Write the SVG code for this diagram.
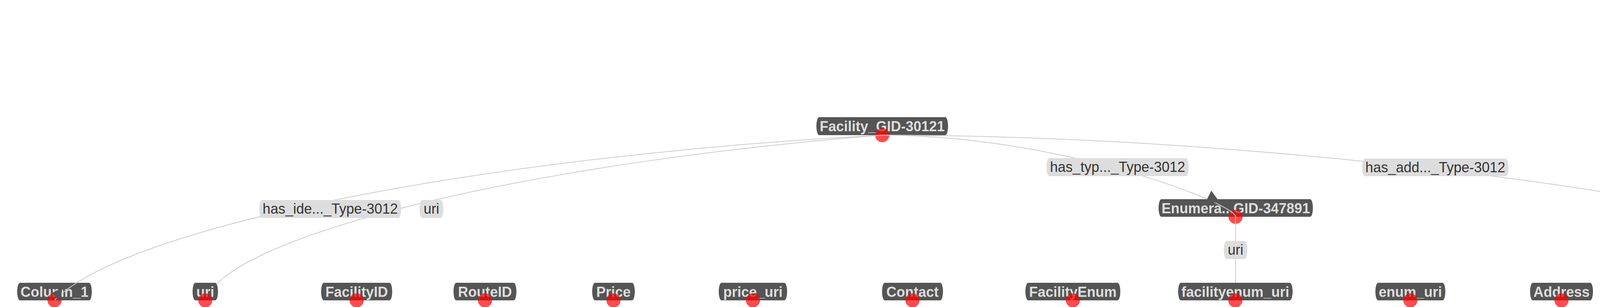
<svg xmlns="http://www.w3.org/2000/svg" width="5496" height="786" viewBox="0 0 5496 786">
<style>
.nbox{fill:#555555}
.ntxt{font-family:"Liberation Sans",Arial,sans-serif;font-size:36px;font-weight:bold;fill:#dddddd;text-anchor:middle}
.dot{fill:#ff0000;fill-opacity:0.7}
.edge{fill:none;stroke:#cccccc;stroke-width:2}
.arrow{fill:#555555}
.lbox{fill:#dddddd}
.ltxt{font-family:"Liberation Sans",Arial,sans-serif;font-size:36px;fill:#333333;text-anchor:middle}
</style>
<rect width="5496" height="786" fill="#ffffff"/>
<g id="nodes">
<g id="node-facility"><rect class="nbox" x="2090" y="300" width="337" height="46" rx="7" ry="23"/><text class="ntxt" x="2258.5" y="336">Facility_GID-30121</text><circle class="dot" cx="2258.5" cy="346" r="18"/></g>
<g id="node-enumeration"><rect class="nbox" x="2966" y="510" width="395" height="45" rx="7" ry="22.5"/><text class="ntxt" x="3163.5" y="546">Enumera...GID-347891</text><circle class="dot" cx="3163" cy="555" r="18"/></g>
<g id="node-address-class"><rect class="nbox" x="4194" y="510" width="379" height="45" rx="7" ry="22.5"/><text class="ntxt" x="4383.5" y="546">Address_GID-364001</text><circle class="dot" cx="4384" cy="555" r="18"/></g>
<g id="node-column1"><rect class="nbox" x="44" y="724" width="191" height="45" rx="7" ry="22.5"/><text class="ntxt" x="139.5" y="760">Column_1</text><circle class="dot" cx="139.5" cy="769" r="18"/></g>
<g id="node-uri"><rect class="nbox" x="493" y="724" width="65" height="45" rx="7" ry="22.5"/><text class="ntxt" x="525.5" y="760">uri</text><circle class="dot" cx="525.5" cy="769" r="18"/></g>
<g id="node-facilityid"><rect class="nbox" x="822" y="724" width="182" height="45" rx="7" ry="22.5"/><text class="ntxt" x="913" y="760">FacilityID</text><circle class="dot" cx="913" cy="769" r="18"/></g>
<g id="node-routeid"><rect class="nbox" x="1161" y="724" width="161" height="45" rx="7" ry="22.5"/><text class="ntxt" x="1241.5" y="760">RouteID</text><circle class="dot" cx="1241.5" cy="769" r="18"/></g>
<g id="node-price"><rect class="nbox" x="1516" y="724" width="109" height="45" rx="7" ry="22.5"/><text class="ntxt" x="1570.5" y="760">Price</text><circle class="dot" cx="1570.5" cy="769" r="18"/></g>
<g id="node-price-uri"><rect class="nbox" x="1840" y="724" width="175" height="45" rx="7" ry="22.5"/><text class="ntxt" x="1927.5" y="760">price_uri</text><circle class="dot" cx="1927.5" cy="769" r="18"/></g>
<g id="node-contact"><rect class="nbox" x="2258" y="724" width="156" height="45" rx="7" ry="22.5"/><text class="ntxt" x="2336" y="760">Contact</text><circle class="dot" cx="2336" cy="769" r="18"/></g>
<g id="node-facilityenum"><rect class="nbox" x="2625" y="724" width="243" height="45" rx="7" ry="22.5"/><text class="ntxt" x="2746.5" y="760">FacilityEnum</text><circle class="dot" cx="2746.5" cy="769" r="18"/></g>
<g id="node-facilityenum-uri"><rect class="nbox" x="3016" y="724" width="293" height="45" rx="7" ry="22.5"/><text class="ntxt" x="3162.5" y="760">facilityenum_uri</text><circle class="dot" cx="3162.5" cy="769" r="18"/></g>
<g id="node-enum-uri"><rect class="nbox" x="3521" y="724" width="179" height="45" rx="7" ry="22.5"/><text class="ntxt" x="3610.5" y="760">enum_uri</text><circle class="dot" cx="3610.5" cy="769" r="18"/></g>
<g id="node-address"><rect class="nbox" x="3917" y="724" width="161" height="45" rx="7" ry="22.5"/><text class="ntxt" x="3997.5" y="760">Address</text><circle class="dot" cx="3997.5" cy="769" r="18"/></g>
<g id="node-address-uri"><rect class="nbox" x="4268" y="724" width="224" height="45" rx="7" ry="22.5"/><text class="ntxt" x="4380" y="760">address_uri</text><circle class="dot" cx="4380" cy="769" r="18"/></g>
<g id="node-calendar"><rect class="nbox" x="4673" y="724" width="179" height="45" rx="7" ry="22.5"/><text class="ntxt" x="4762.5" y="760">Calendar</text><circle class="dot" cx="4762.5" cy="769" r="18"/></g>
</g>
<g id="connectors">
<path class="edge" d="M2258,346 C1300,396 340,568 140,768"/>
<path class="edge" d="M2258,346 C1400,414 705,577 555,727"/>
<path class="edge" d="M2258,346 C2710,346 3163,520 3163,555"/>
<path class="edge" d="M2258,346 C3300,346 4384,520 4384,555"/>
<path class="edge" d="M3163,555 L3163,724"/>
<path class="edge" d="M4384,555 L4381,724"/>
<polygon class="arrow" points="160,737 133,750 153,773"/>
<polygon class="arrow" points="3101,488 3087,516 3124,520"/>
<polygon class="arrow" points="4257,493 4249,518 4287,521"/>
<g id="edge-labels">
<rect class="lbox" x="664" y="512" width="363" height="46" rx="7" ry="23"/><text class="ltxt" x="845.5" y="547">has_ide..._Type-3012</text>
<rect class="lbox" x="1074" y="512" width="61" height="46" rx="7" ry="23"/><text class="ltxt" x="1104.5" y="547">uri</text>
<rect class="lbox" x="2679" y="405" width="364" height="46" rx="7" ry="23"/><text class="ltxt" x="2861" y="440">has_typ..._Type-3012</text>
<rect class="lbox" x="3487" y="406" width="375" height="45" rx="7" ry="22.5"/><text class="ltxt" x="3674.5" y="441">has_add..._Type-3012</text>
<rect class="lbox" x="3133" y="617" width="60" height="46" rx="7" ry="23"/><text class="ltxt" x="3163" y="652">uri</text>
<rect class="lbox" x="4351" y="617" width="61" height="46" rx="7" ry="23"/><text class="ltxt" x="4381.5" y="652">uri</text>
</g>
</g>
</svg>
